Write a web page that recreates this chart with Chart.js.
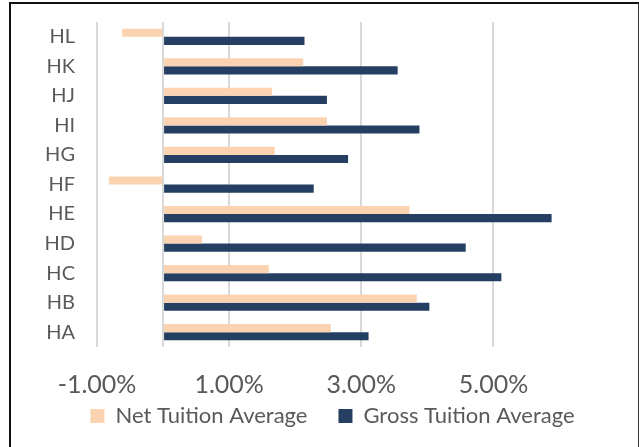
<!DOCTYPE html>
<html>
<head>
<meta charset="utf-8">
<script src="https://cdn.jsdelivr.net/npm/chart.js@4/dist/chart.umd.min.js"></script>
<style>
  html, body { margin: 0; padding: 0; background: #fff; overflow: hidden; }
  #frame {
    position: absolute; left: 9px; top: 2px; width: 627px; height: 470px;
    border-left: 2px solid #111; border-top: 2px solid #111; border-right: 1px solid #333;
  }
  #wrap { position: absolute; left: 0; top: 0; width: 639px; height: 447px; }
</style>
</head>
<body>
<div id="frame"></div>
<div id="wrap"><canvas id="chart"></canvas></div>
<script>
// categories, top to bottom as drawn
const campuses = ['HL', 'HK', 'HJ', 'HI', 'HG', 'HF', 'HE', 'HD', 'HC', 'HB', 'HA'];
// values in percent
const netTuition = [-0.62, 2.12, 1.65, 2.48, 1.69, -0.82, 3.73, 0.59, 1.60, 3.84, 2.54];
const grossTuition = [2.14, 3.55, 2.48, 3.88, 2.80, 2.28, 5.88, 4.58, 5.12, 4.03, 3.11];
const tickValues = [-1, 0, 1, 3, 5];

const textColor = '#595959';
const gridColor = '#d9d9d9';

const ctx = document.getElementById('chart');

new Chart(ctx, {
    type: 'bar',
    data: {
        labels: campuses,
        datasets: [
            {
                label: 'Net Tuition Average',
                data: netTuition,
                backgroundColor: '#fbd3b1',
                categoryPercentage: 0.55,
                barPercentage: 1.0
            },
            {
                label: 'Gross Tuition Average',
                data: grossTuition,
                backgroundColor: '#243f62',
                categoryPercentage: 0.55,
                barPercentage: 1.0
            }
        ]
    },
    options: {
        indexAxis: 'y',
        responsive: true,
        maintainAspectRatio: false,
        animation: false,
        layout: { padding: { left: 46, right: 20, top: 22, bottom: 10 } },
        scales: {
            x: {
                min: -1,
                max: 6.9,
                afterBuildTicks: (scale) => {
                    scale.ticks = tickValues.map(v => ({ value: v }));
                },
                // squeeze the axis box so the plot stays tall, and let labels hang out of it
                afterFit: (scale) => {
                    scale.height = 27;
                    scale._computeLabelArea = () => undefined;
                },
                grid: { color: gridColor, lineWidth: 2, drawTicks: false },
                border: { display: false },
                ticks: {
                    color: textColor,
                    font: { family: 'Lato', size: 25 },
                    padding: 23,
                    maxRotation: 0,
                    autoSkip: false,
                    callback: (v) => v === 0 ? '' : v.toFixed(2) + '%'
                }
            },
            y: {
                afterFit: (scale) => {
                    scale.width = 51;
                    scale.paddingTop = 0;
                    scale.paddingBottom = 0;
                },
                grid: { display: false, drawTicks: false },
                border: { display: false },
                ticks: {
                    color: textColor,
                    font: { family: 'Lato', size: 20 },
                    padding: 22,
                    autoSkip: false
                }
            }
        },
        plugins: {
            legend: {
                position: 'bottom',
                labels: {
                    color: textColor,
                    font: { family: 'Lato', size: 22 },
                    boxWidth: 14,
                    boxHeight: 14,
                    padding: 31
                }
            },
            tooltip: { enabled: false }
        }
    }
});
</script>
</body>
</html>
